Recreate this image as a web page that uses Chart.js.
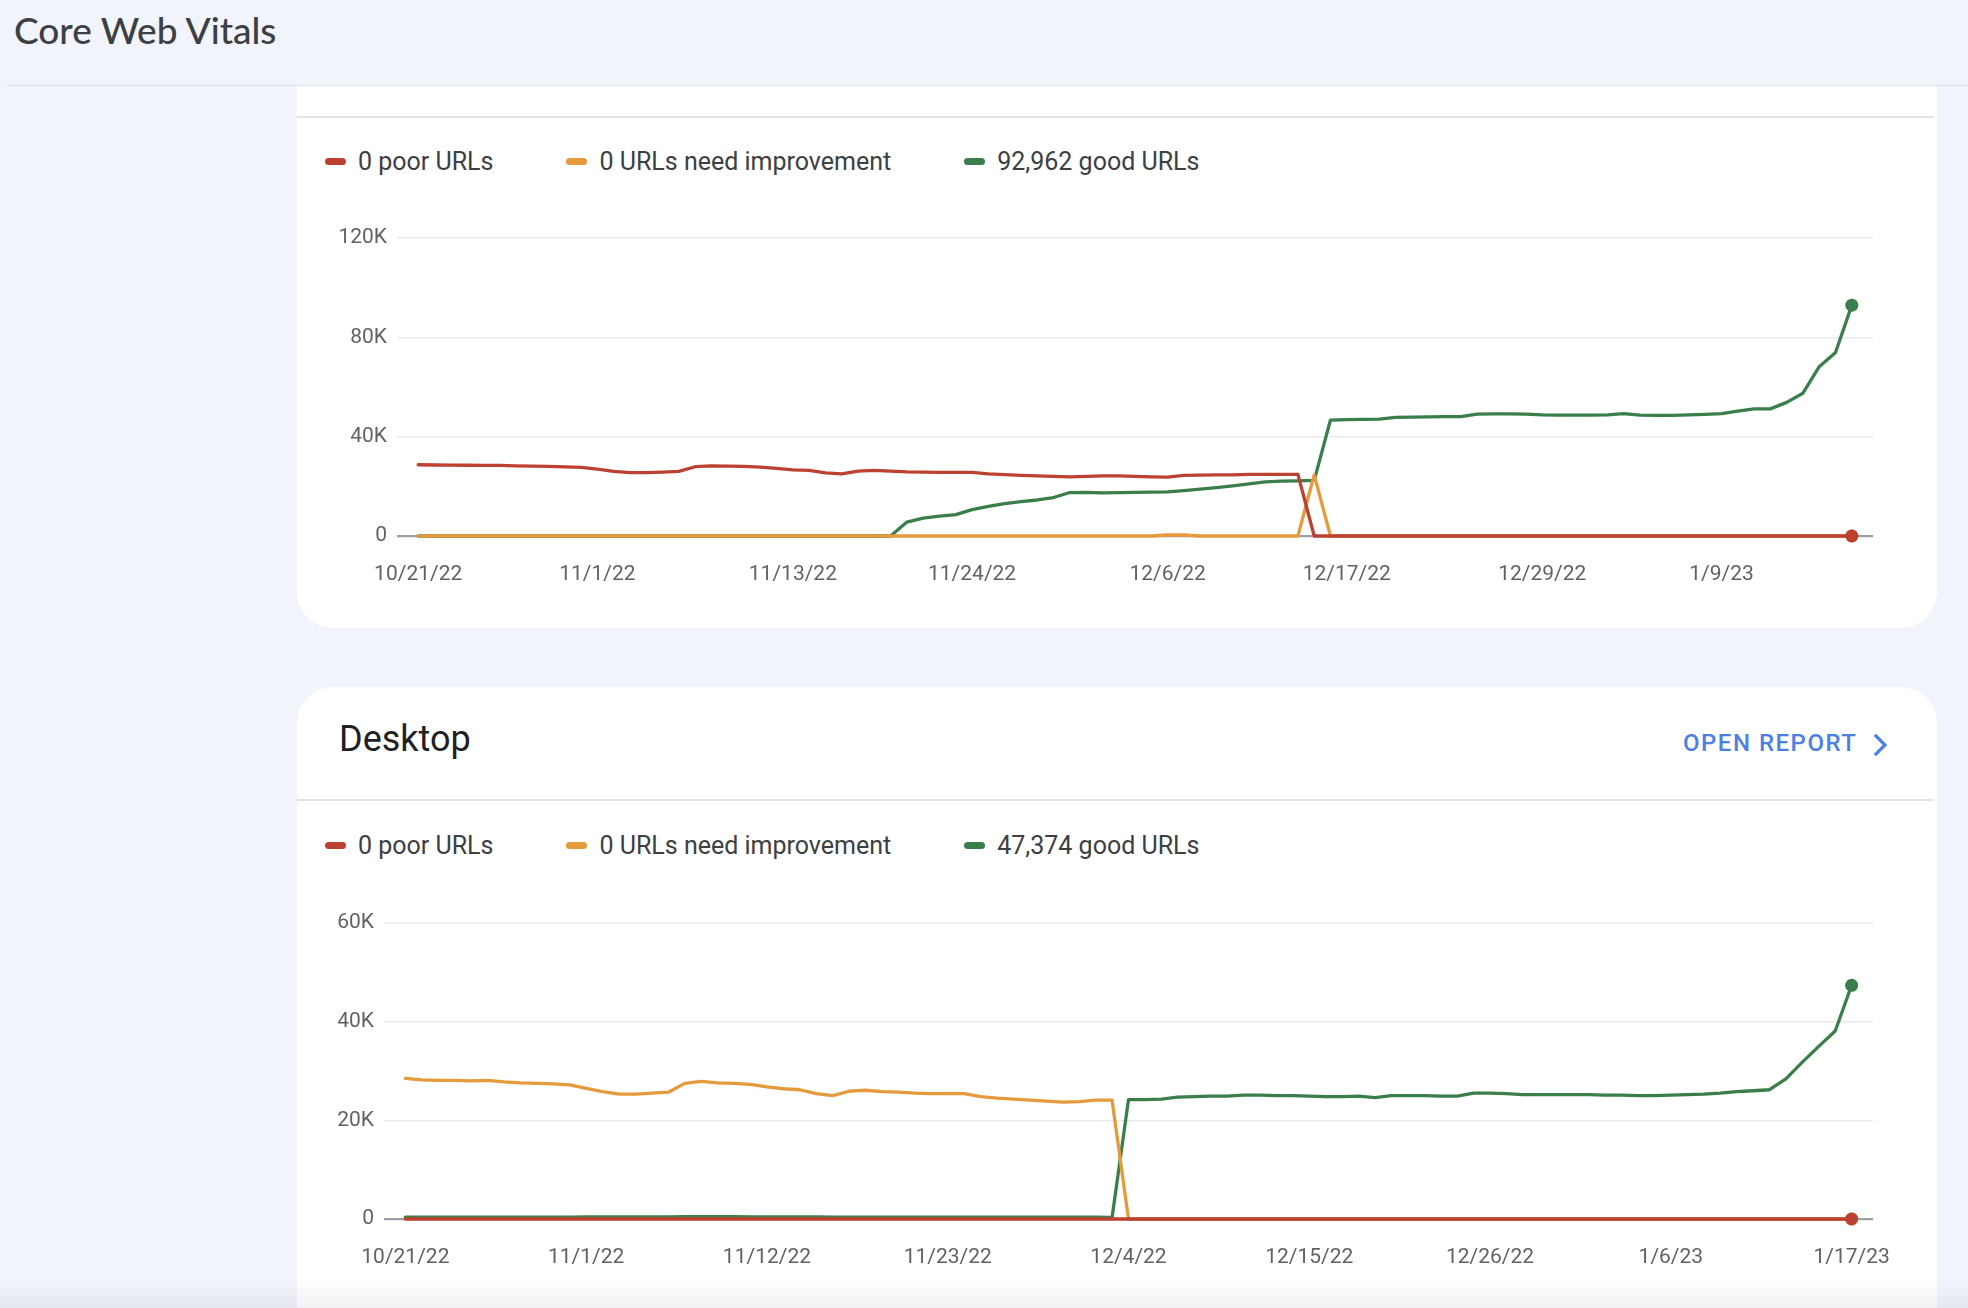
<!DOCTYPE html>
<html>
<head>
<meta charset="utf-8">
<script src="https://cdn.jsdelivr.net/npm/chart.js@4.4.1/dist/chart.umd.min.js"></script>
<style>
  html, body { margin: 0; padding: 0; }
  body { width: 1968px; height: 1308px; overflow: hidden; background: #f1f4fa; position: relative; font-family: Roboto, sans-serif; }
  .abs { position: absolute; }
  #title { left: 14px; top: 8px; font-family: Lato, 'Open Sans', sans-serif; font-size: 37px; line-height: 44px; color: #3c4043; font-weight: 500; }
  #hline { left: 6px; right: 0; top: 85px; height: 1px; background: #dde2ea; }
  .card { background: #ffffff; }
  #card1 { left: 297px; top: 86px; width: 1640px; height: 542px; border-radius: 0 0 36px 36px; }
  #card2 { left: 297px; top: 687px; width: 1640px; height: 700px; border-radius: 36px 36px 0 0; }
  .divider { left: 297px; width: 1637px; height: 2px; background: #e2e3e5; }
  .legend { left: 325px; display: flex; align-items: center; gap: 73px; height: 30px; font-size: 25px; color: #3c4043; }
  .legend .item { display: flex; align-items: center; gap: 12px; white-space: nowrap; }
  .legend .mk { width: 21px; height: 7px; border-radius: 4px; display: inline-block; }
  #desk { left: 339px; top: 717px; font-size: 36px; line-height: 44px; color: #202124; }
  #open { left: 1683px; top: 729px; font-size: 24px; line-height: 28px; color: #4b80e4; font-weight: 500; letter-spacing: 1.5px; }
  #chev { left: 1870px; top: 732px; }
  #bottomshade { left: 0; right: 0; bottom: 0; height: 28px; background: linear-gradient(rgba(0,0,0,0), rgba(0,0,0,0.05)); }
</style>
</head>
<body>
<div id="title" class="abs">Core Web Vitals</div>
<div id="hline" class="abs"></div>

<div id="card1" class="abs card"></div>
<div class="abs divider" style="top:116px"></div>
<div id="legend1" class="abs legend" style="top:146px"></div>
<div class="abs" style="left:297px; top:200px; width:1640px; height:398px;"><canvas id="c1"></canvas></div>

<div id="card2" class="abs card"></div>
<div id="desk" class="abs">Desktop</div>
<div id="open" class="abs">OPEN REPORT</div>
<svg id="chev" class="abs" width="22" height="26" viewBox="0 0 22 26"><polyline points="6,4 15,13 6,22" fill="none" stroke="#4b80e4" stroke-width="3.2" stroke-linecap="square"/></svg>
<div class="abs divider" style="top:799px"></div>
<div id="legend2" class="abs legend" style="top:830px"></div>
<div class="abs" style="left:297px; top:886px; width:1640px; height:395px;"><canvas id="c2"></canvas></div>
<div id="bottomshade" class="abs"></div>

<script>
// ---------- categories ----------
const dates = [
  '10/21/22','10/22/22','10/23/22','10/24/22','10/25/22','10/26/22','10/27/22','10/28/22','10/29/22','10/30/22','10/31/22',
  '11/1/22','11/2/22','11/3/22','11/4/22','11/5/22','11/6/22','11/7/22','11/8/22','11/9/22','11/10/22',
  '11/11/22','11/12/22','11/13/22','11/14/22','11/15/22','11/16/22','11/17/22','11/18/22','11/19/22','11/20/22',
  '11/21/22','11/22/22','11/23/22','11/24/22','11/25/22','11/26/22','11/27/22','11/28/22','11/29/22','11/30/22',
  '12/1/22','12/2/22','12/3/22','12/4/22','12/5/22','12/6/22','12/7/22','12/8/22','12/9/22','12/10/22',
  '12/11/22','12/12/22','12/13/22','12/14/22','12/15/22','12/16/22','12/17/22','12/18/22','12/19/22','12/20/22',
  '12/21/22','12/22/22','12/23/22','12/24/22','12/25/22','12/26/22','12/27/22','12/28/22','12/29/22','12/30/22',
  '12/31/22','1/1/23','1/2/23','1/3/23','1/4/23','1/5/23','1/6/23','1/7/23','1/8/23','1/9/23',
  '1/10/23','1/11/23','1/12/23','1/13/23','1/14/23','1/15/23','1/16/23','1/17/23'
];

// ---------- tick labels (indices into dates) ----------
const mobileTickIdx  = [0, 11, 23, 34, 46, 57, 69, 80];
const desktopTickIdx = [0, 11, 22, 33, 44, 55, 66, 77, 88];
const mobileYTicks   = [0, 40000, 80000, 120000];
const desktopYTicks  = [0, 20000, 40000, 60000];

// ---------- series names ----------
const seriesSuffix = ['poor URLs', 'URLs need improvement', 'good URLs'];
const seriesColors = ['#bd4131', '#e59a3b', '#3a7e4c'];

// ---------- mobile (top chart) ----------
const mobilePoor = [
  28700,28600,28500,28500,28400,28400,28200,28100,28000,27800,27600,26900,26000,25500,25500,25700,26000,27900,28200,28100,
  28000,27700,27200,26600,26400,25400,25000,26100,26400,26100,25800,25700,25600,25600,25600,25000,24700,24400,24200,24000,
  23800,24000,24200,24200,24000,23800,23700,24400,24500,24600,24600,24800,24800,24800,24800,0,0,0,0,0,
  0,0,0,0,0,0,0,0,0,0,0,0,0,0,0,0,0,0,0,0,
  0,0,0,0,0,0,0,0,0
];
const mobileNeedsImprovement = [
  0,0,0,0,0,0,0,0,0,0,0,0,0,0,0,0,0,0,0,0,
  0,0,0,0,0,0,0,0,0,0,0,0,0,0,0,0,0,0,0,0,
  0,0,0,0,0,0,400,400,0,0,0,0,0,0,0,24600,0,0,0,0,
  0,0,0,0,0,0,0,0,0,0,0,0,0,0,0,0,0,0,0,0,
  0,0,0,0,0,0,0,0,0
];
const mobileGood = [
  0,0,0,0,0,0,0,0,0,0,0,0,0,0,0,0,0,0,0,0,
  0,0,0,0,0,0,0,0,0,0,5600,7200,8000,8600,10600,11900,13000,13800,14500,15500,
  17500,17600,17400,17500,17600,17700,17800,18300,18900,19500,20200,21000,21800,22100,22200,22400,46700,46900,47000,47100,
  47800,47900,48000,48100,48100,49100,49200,49200,49100,48800,48700,48700,48700,48800,49300,48700,48600,48600,48800,49000,
  49300,50300,51200,51200,53800,57500,68200,73900,92962
];

// ---------- desktop (bottom chart) ----------
const desktopPoor = [
  0,0,0,0,0,0,0,0,0,0,0,0,0,0,0,0,0,0,0,0,
  0,0,0,0,0,0,0,0,0,0,0,0,0,0,0,0,0,0,0,0,
  0,0,0,0,0,0,0,0,0,0,0,0,0,0,0,0,0,0,0,0,
  0,0,0,0,0,0,0,0,0,0,0,0,0,0,0,0,0,0,0,0,
  0,0,0,0,0,0,0,0,0
];
const desktopNeedsImprovement = [
  28500,28200,28100,28100,28000,28100,27800,27600,27500,27400,27200,26500,25800,25300,25300,25500,25700,27500,27900,27600,
  27500,27300,26800,26400,26200,25400,25000,25900,26100,25800,25700,25500,25400,25400,25400,24800,24500,24300,24100,23900,
  23700,23800,24100,24100,0,0,0,0,0,0,0,0,0,0,0,0,0,0,0,0,
  0,0,0,0,0,0,0,0,0,0,0,0,0,0,0,0,0,0,0,0,
  0,0,0,0,0,0,0,0,0
];
const desktopGood = [
  400,400,400,400,400,400,400,400,400,400,400,450,450,450,450,450,450,500,500,500,
  500,450,450,450,450,450,400,400,400,400,400,400,400,400,400,400,400,400,400,400,
  400,400,400,300,24200,24200,24300,24700,24800,24900,24900,25100,25100,25000,25000,24900,24800,24800,24900,24600,
  25000,25000,25000,24900,24900,25500,25500,25400,25200,25200,25200,25200,25200,25100,25100,25000,25000,25100,25200,25300,
  25500,25800,26000,26200,28400,31800,35000,38100,47374
];

Chart.defaults.font.family = 'Roboto, sans-serif';

function toPoints(arr) { return arr.map((v, i) => ({ x: i, y: v })); }
function kLabel(v) { return v === 0 ? '0' : (v / 1000) + 'K'; }

function makeDataset(values, idx) {
  const last = values.length - 1;
  return {
    label: values[last].toLocaleString('en-US') + ' ' + seriesSuffix[idx],
    data: toPoints(values),
    borderColor: seriesColors[idx],
    backgroundColor: seriesColors[idx],
    borderWidth: 3.3,
    tension: 0,
    borderJoinStyle: 'round',
    borderCapStyle: 'round',
    pointRadius: (ctx) => ctx.dataIndex === last ? 6.5 : 0,
    pointHoverRadius: 0,
    pointBorderWidth: 0,
    clip: false
  };
}

function makeChart(canvasId, legendId, series, tickIdx, yTicks, yWidth, padTop) {
  const datasets = series.map((s, i) => makeDataset(s, i));
  const chart = new Chart(document.getElementById(canvasId), {
    type: 'line',
    data: { datasets },
    options: {
      responsive: true,
      maintainAspectRatio: false,
      animation: false,
      events: [],
      layout: { padding: { left: 0, right: 64, top: padTop, bottom: 0 } },
      plugins: { legend: { display: false }, tooltip: { enabled: false } },
      scales: {
        x: {
          type: 'linear',
          min: -1.3,
          max: dates.length - 1 + 1.3,
          grid: { display: false, drawTicks: false },
          border: { display: false },
          afterBuildTicks: (scale) => { scale.ticks = tickIdx.map(v => ({ value: v })); },
          afterFit: (scale) => { scale.height = 62; },
          ticks: {
            autoSkip: false,
            maxRotation: 0,
            padding: 26,
            color: '#5f6368',
            font: { size: 21 },
            callback: (v) => dates[v]
          }
        },
        y: {
          min: yTicks[0],
          max: yTicks[yTicks.length - 1],
          afterBuildTicks: (scale) => { scale.ticks = yTicks.map(v => ({ value: v })); },
          afterFit: (scale) => { scale.width = yWidth; },
          grid: {
            drawTicks: false,
            color: (ctx) => ctx.tick && ctx.tick.value === 0 ? '#9aa0a6' : '#e8eaed',
            lineWidth: (ctx) => ctx.tick && ctx.tick.value === 0 ? 2.2 : 1.6
          },
          border: { display: false },
          ticks: {
            padding: 10,
            color: '#5f6368',
            font: { size: 21 },
            callback: (v) => kLabel(v)
          }
        }
      }
    }
  });
  // HTML legend built from the chart's datasets
  const lg = document.getElementById(legendId);
  chart.data.datasets.forEach(ds => {
    const it = document.createElement('div');
    it.className = 'item';
    const mk = document.createElement('span');
    mk.className = 'mk';
    mk.style.background = ds.borderColor;
    const tx = document.createElement('span');
    tx.textContent = ds.label;
    it.appendChild(mk); it.appendChild(tx);
    lg.appendChild(it);
  });
  return chart;
}

makeChart('c1', 'legend1', [mobilePoor, mobileNeedsImprovement, mobileGood], mobileTickIdx, mobileYTicks, 100, 38);
makeChart('c2', 'legend2', [desktopPoor, desktopNeedsImprovement, desktopGood], desktopTickIdx, desktopYTicks, 87, 37);
</script>
</body>
</html>
